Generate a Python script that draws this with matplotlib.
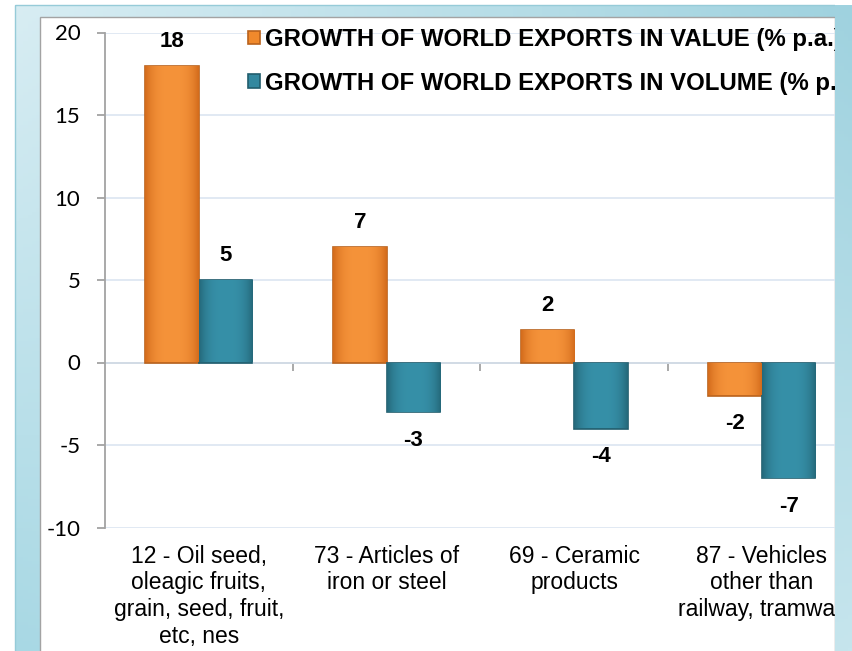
"""Growth of world exports by product: value vs volume."""
import numpy as np
import matplotlib
matplotlib.use("Agg")
from matplotlib import pyplot as plt
from matplotlib.patches import Rectangle
from matplotlib.colors import to_rgb

plt.rcParams['font.family'] = ['Liberation Sans', 'DejaVu Sans']
plt.rcParams['axes.unicode_minus'] = False

# data
categories = ["12 - Oil seed,\noleagic fruits,\ngrain, seed, fruit,\netc, nes",
              "73 - Articles of\niron or steel",
              "69 - Ceramic\nproducts",
              "87 - Vehicles\nother than\nrailway, tramway"]
value_growth = [18, 7, 2, -2]
volume_growth = [5, -3, -4, -7]
series_names = ["GROWTH OF WORLD EXPORTS IN VALUE (% p.a.)",
                "GROWTH OF WORLD EXPORTS IN VOLUME (% p.a.)"]
yticks = [-10, -5, 0, 5, 10, 15, 20]

W, H = 852, 651
ORANGE, ORANGE_EDGE = "#f0892c", "#b9621d"
TEAL, TEAL_EDGE = "#33889f", "#215d6d"
GRAY = "#a3a3a3"


def frame_gradient(nx=200, ny=200):
    """Light blue backdrop, bilinear between four corner colours."""
    tl, tr = np.array(to_rgb("#d8edf3")), np.array(to_rgb("#9fd2df"))
    bl, br = np.array(to_rgb("#a8d8e4")), np.array(to_rgb("#c6e5ed"))
    u = np.linspace(0, 1, nx)[None, :, None]
    v = np.linspace(0, 1, ny)[:, None, None]
    return (1 - u) * (1 - v) * tl + u * (1 - v) * tr + (1 - u) * v * bl + u * v * br


def shade(ax, bars, light, dark):
    """Soft horizontal shading inside each bar (darker at the sides)."""
    t = np.linspace(-1, 1, 60)
    w = (np.abs(t) ** 3)[None, :, None]
    img = (1 - w) * np.array(to_rgb(light)) + w * np.array(to_rgb(dark))
    for rect in bars:
        x0, y0 = rect.get_x(), rect.get_y()
        x1, y1 = x0 + rect.get_width(), y0 + rect.get_height()
        im = ax.imshow(img, extent=(x0, x1, min(y0, y1), max(y0, y1)),
                       aspect="auto", zorder=3.5)
        im.set_clip_path(rect)


fig = plt.figure(figsize=(W / 100, H / 100), dpi=100)
grad = frame_gradient()

# backdrop with white chart panel
bg = fig.add_axes([0, 0, 1, 1], zorder=-2)
bg.set_xlim(0, W)
bg.set_ylim(H, 0)
bg.axis("off")
bg.imshow(grad, extent=(15, W, H, 5), aspect="auto")
bg.add_patch(Rectangle((15, 5), W, H, fill=False, edgecolor="#96cbd8", lw=1))
bg.add_patch(Rectangle((40, 17), 795, H, facecolor="white", edgecolor=GRAY, lw=1))
bg.set_xlim(0, W)
bg.set_ylim(H, 0)

# main chart
cat_w = 187.7
ax = fig.add_axes([105 / W, 1 - 527.5 / H, 4 * cat_w / W, 495 / H], zorder=1)
ax.patch.set_alpha(0)
x = np.arange(len(categories)) + 0.5
bw = 0.285
b1 = ax.bar(x - bw / 2, value_growth, bw, color=ORANGE, edgecolor=ORANGE_EDGE, lw=1.2, zorder=3)
b2 = ax.bar(x + bw / 2, volume_growth, bw, color=TEAL, edgecolor=TEAL_EDGE, lw=1.2, zorder=3)
shade(ax, b1, "#f5933a", "#d46c1c")
shade(ax, b2, "#3690a8", "#25697b")

for bars, vals in ((b1, value_growth), (b2, volume_growth)):
    for rect, v in zip(bars, vals):
        off = 17.6 if v > 0 else -20.5
        ax.annotate(str(v), (rect.get_x() + rect.get_width() / 2, v),
                    xytext=(0, off), textcoords="offset points",
                    ha="center", va="center", fontsize=16, fontweight="bold")

ax.set_xlim(0, len(categories))
ax.set_ylim(-10, 20)
ax.set_yticks(yticks)
ax.yaxis.grid(True, color="#dbe5f1", lw=1.2)
ax.set_axisbelow(True)
for s in ("top", "right", "bottom"):
    ax.spines[s].set_visible(False)
ax.spines["left"].set_color(GRAY)
ax.spines["left"].set_linewidth(1.3)
ax.tick_params(axis="y", length=5.8, width=1.3, color=GRAY, pad=12, labelsize=16)
for lab in ax.get_yticklabels():
    lab.set_fontfamily(["Lato", "DejaVu Sans"])
ax.set_xticks(x, categories)
ax.tick_params(axis="x", length=0, pad=12.5, labelsize=16.5)
for lab in ax.get_xticklabels():
    lab.set_linespacing(1.2)

# zero line with category boundary ticks
zero = ax.secondary_xaxis(10 / 30)
zero.set_xticks(np.arange(1, len(categories) + 1))
zero.tick_params(length=5.8, width=1.3, color=GRAY, labelbottom=False)
zero.spines["bottom"].set_color(GRAY)
zero.spines["bottom"].set_linewidth(1.3)

ax.legend([b1, b2], series_names, loc="upper left",
          bbox_to_anchor=(248 / W, 1 - 28 / H), bbox_transform=fig.transFigure,
          frameon=False, prop=dict(weight="bold", size=17.3),
          handlelength=0.5, handleheight=0.5, handletextpad=0.22,
          labelspacing=0.86, borderpad=0, borderaxespad=0)

# right edge of the frame covers the overflowing chart
ov = fig.add_axes([835 / W, 0, 1 - 835 / W, 1], zorder=5)
ov.imshow(grad, extent=(15, W, H, 5), aspect="auto")
ov.set_xlim(835, W)
ov.set_ylim(H, 0)
ov.axis("off")
ov.add_patch(Rectangle((835, 0), W, 5, facecolor="white", lw=0))

fig.savefig("out.png", dpi=100)
